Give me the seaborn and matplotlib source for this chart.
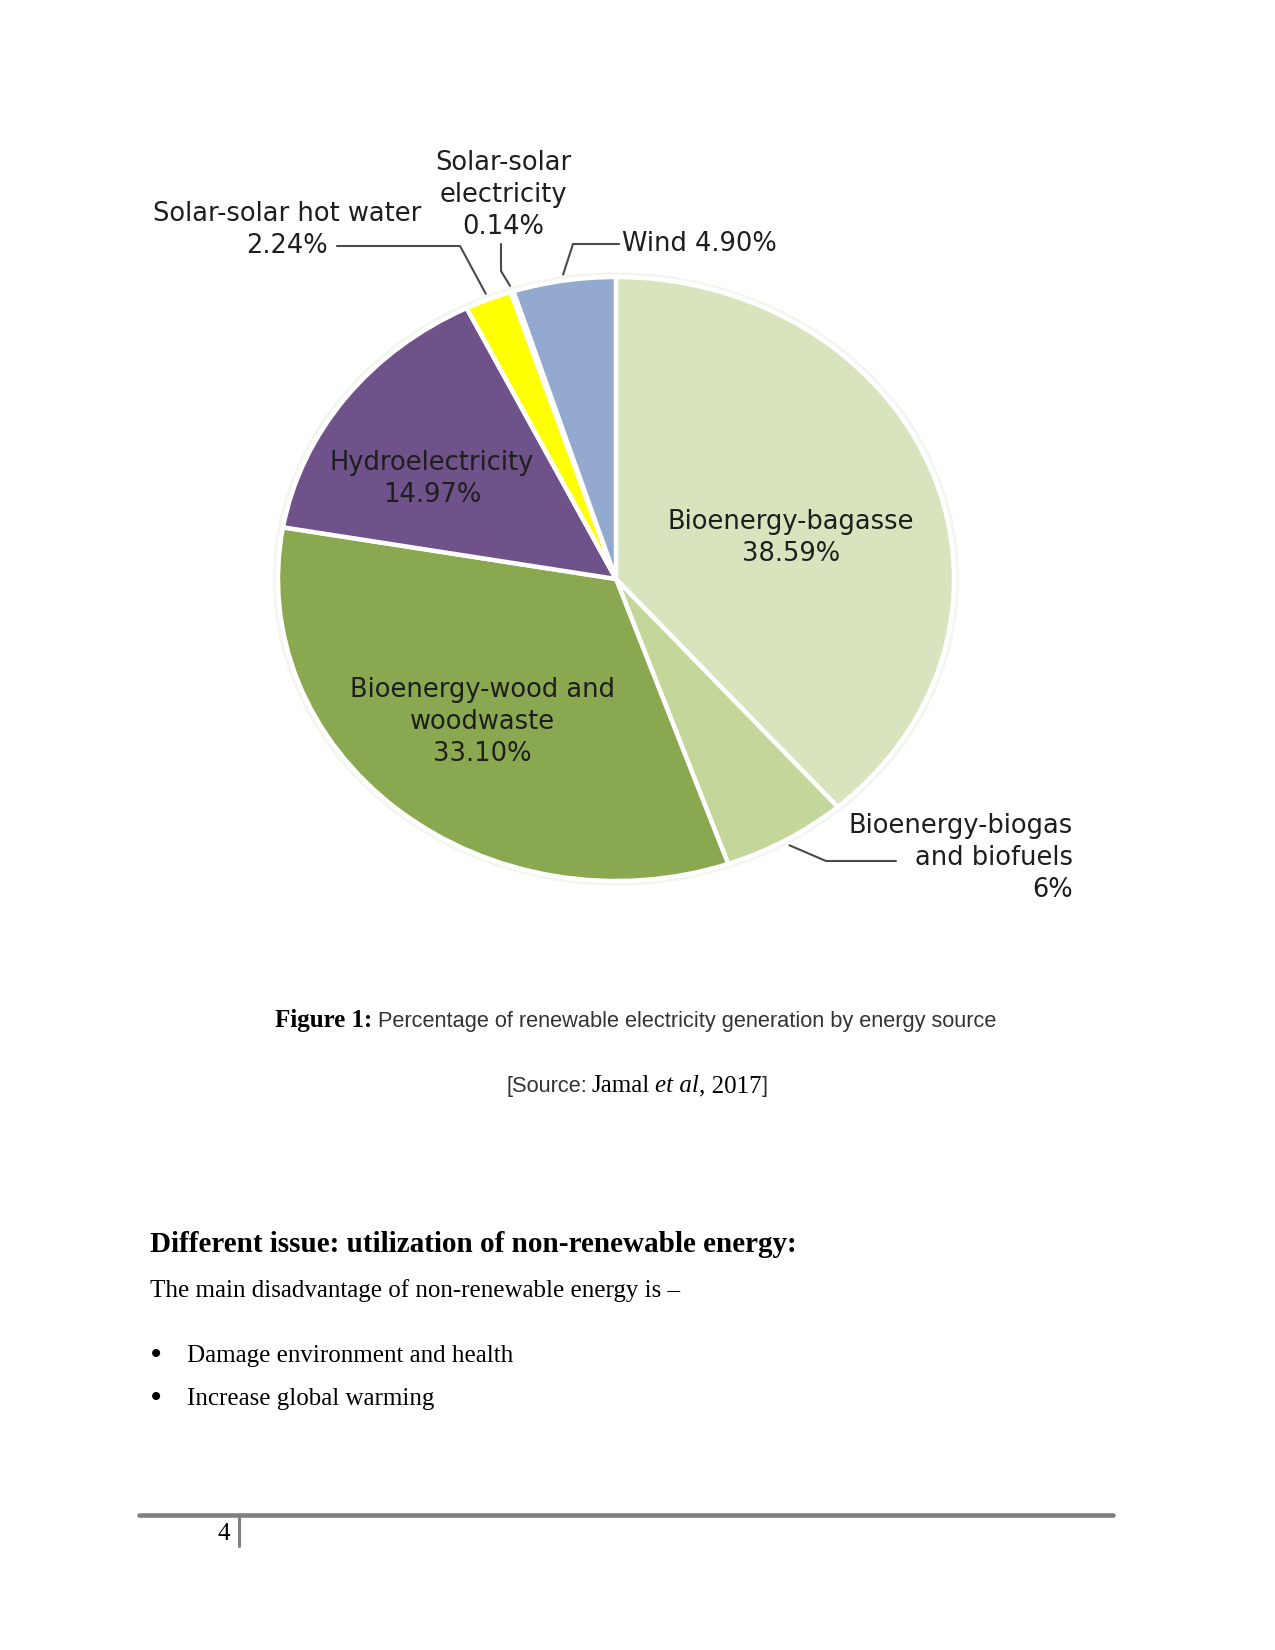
import matplotlib
matplotlib.use("Agg")
import matplotlib.pyplot as plt
import numpy as np
import seaborn as sns

# pie data, clockwise from 12 o'clock
sources = ["Bioenergy-bagasse", "Bioenergy-biogas\nand biofuels", "Bioenergy-wood and\nwoodwaste",
           "Hydroelectricity", "Solar-solar hot water", "Solar-solar\nelectricity", "Wind"]
shares = [38.59, 6.0, 33.10, 14.97, 2.24, 0.14, 4.90]
share_labels = ["38.59%", "6%", "33.10%", "14.97%", "2.24%", "0.14%", "4.90%"]
slice_colors = ["#d7e4bd", "#c4d79b", "#8aa84f", "#6e5289", "#ffff00", "#e8e8e8", "#93a9cf"]

caption_bold = "Figure 1:"
caption_text = "Percentage of renewable electricity generation by energy source"
heading = "Different issue: utilization of non-renewable energy:"
intro = "The main disadvantage of non-renewable energy is \u2013"
bullets = ["Damage environment and health", "Increase global warming"]
page_number = "4"

W, H = 1275, 1650
CX, CY, RX, RY = 616, 579, 338, 302

# label layout in page pixels: text x, text y, alignment, leader elbows (from slice outwards)
label_layout = {
    "Bioenergy-bagasse": (791, 538, "center", []),
    "Bioenergy-biogas\nand biofuels": (1073, 858, "right", [(826, 861), (896, 861)]),
    "Bioenergy-wood and\nwoodwaste": (482, 722, "center", []),
    "Hydroelectricity": (432, 479, "center", []),
    "Solar-solar hot water": (287, 230, "center", [(460, 246), (337, 246)]),
    "Solar-solar\nelectricity": (503, 195, "center", [(501, 271), (501, 244)]),
    "Wind": (622, 244, "left", [(573, 244), (619, 244)]),
}


def to_data(px, py):
    return (px - CX) / RX, (CY - py) / RY


sns.set_theme(style="white")
plt.rcParams["font.family"] = ["DejaVu Sans"]

fig = plt.figure(figsize=(W / 100, H / 100), dpi=100)
fig.patch.set_facecolor("white")

ax = fig.add_axes([(CX - RX) / W, 1 - (CY + RY) / H, 2 * RX / W, 2 * RY / H])
# faint halo behind the pie
ax.pie(shares, radius=1.015, colors=["#f3f6ee"] * len(shares), startangle=90,
       counterclock=False, wedgeprops=dict(linewidth=0))
wedges, _ = ax.pie(shares, colors=slice_colors, startangle=90, counterclock=False,
                   wedgeprops=dict(edgecolor="white", linewidth=3.2))
ax.set_xlim(-1, 1)
ax.set_ylim(-1, 1)
ax.set_aspect("auto")
ax.axis("off")

for name, pct, w in zip(sources, share_labels, wedges):
    tx, ty, ha, elbows = label_layout[name]
    label = f"{name} {pct}" if name == "Wind" else f"{name}\n{pct}"
    fig.text(tx / W, 1 - ty / H, label, ha=ha, va="center", multialignment=ha,
             fontsize=18.5, color="#1e1e1e", linespacing=1.28)
    if elbows:
        mid = np.deg2rad((w.theta1 + w.theta2) / 2)
        xs = [1.02 * np.cos(mid)] + [to_data(*p)[0] for p in elbows]
        ys = [1.02 * np.sin(mid)] + [to_data(*p)[1] for p in elbows]
        ax.plot(xs, ys, color="#4a4a4a", lw=1.5, clip_on=False)

renderer = fig.canvas.get_renderer()


def run_text(pieces, x0, y):
    x = x0
    for s, kw, gap in pieces:
        t = fig.text(x / W, 1 - y / H, s, ha="left", va="baseline", **kw)
        x += t.get_window_extent(renderer).width + gap
    return x


serif = dict(family="Liberation Serif", fontsize=18, color="black")
sans = dict(family="Liberation Sans", fontsize=15.7, color="#333333")

run_text([(caption_bold, dict(serif, weight="bold"), 6), (caption_text, sans, 0)], 275, 1027)
run_text([("[Source:", sans, 5), ("Jamal", serif, 5), ("et al", dict(serif, style="italic"), 0),
          (", 2017", serif, 0), ("]", sans, 0)], 506, 1092)

fig.text(150 / W, 1 - 1252 / H, heading, family="Liberation Serif", weight="bold",
         fontsize=21, color="black", ha="left", va="baseline")
fig.text(150 / W, 1 - 1297 / H, intro, ha="left", va="baseline", **serif)
for i, b in enumerate(bullets):
    yb = 1362 + i * 43
    fig.text(156 / W, 1 - (yb - 7) / H, "\u2022", ha="center", va="center",
             family="DejaVu Sans", fontsize=20, color="black")
    fig.text(187 / W, 1 - yb / H, b, ha="left", va="baseline", **serif)

fig.add_artist(plt.Line2D([139 / W, 1113 / W], [1 - 1515 / H] * 2, color="#808080", lw=3.3))
fig.add_artist(plt.Line2D([239 / W] * 2, [1 - 1515 / H, 1 - 1546 / H], color="#808080", lw=2.2))
fig.text(230 / W, 1 - 1540 / H, page_number, ha="right", va="baseline", **serif)

fig.savefig("out.png", dpi=100, facecolor="white")
